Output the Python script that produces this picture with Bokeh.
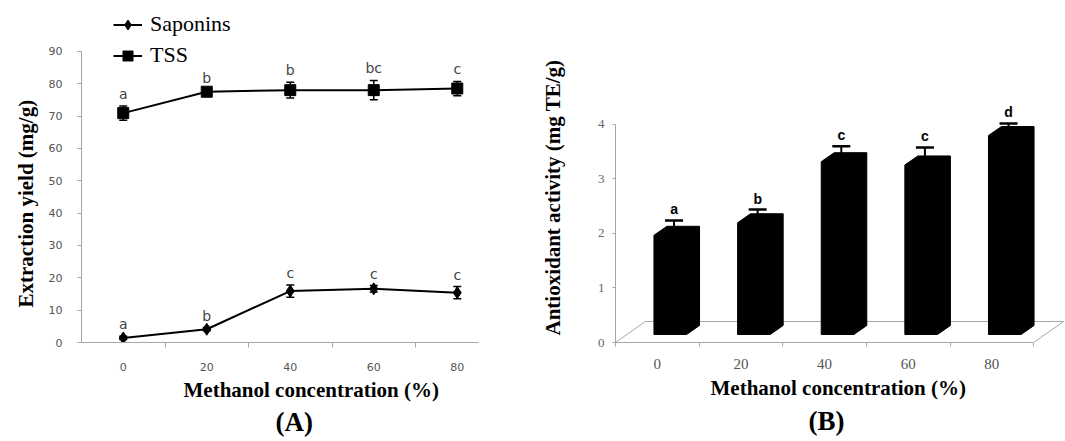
import math
from bokeh.plotting import figure
from bokeh.models import (Range1d, FixedTicker, Whisker, TeeHead, ColumnDataSource,
                          Legend, LegendItem, Title)
from bokeh.layouts import row
from bokeh.core.properties import value
from bokeh.embed import file_html
from bokeh.resources import INLINE

# ---------------- data: panel A ----------------
concentration = [0, 20, 40, 60, 80]
tss = [70.9, 77.5, 78.0, 78.0, 78.5]
tss_err = [2.2, 0.5, 2.4, 3.0, 2.2]
tss_letters = ["a", "b", "b", "bc", "c"]
saponins = [1.4, 4.1, 15.9, 16.6, 15.4]
saponins_err = [0.5, 0.5, 1.9, 1.0, 1.9]
saponins_letters = ["a", "b", "c", "c", "c"]
y_ticks_a = [0, 10, 20, 30, 40, 50, 60, 70, 80, 90]

# ---------------- data: panel B ----------------
conc_labels = ["0", "20", "40", "60", "80"]
antioxidant = [2.05, 2.28, 3.40, 3.34, 3.88]
antioxidant_err = [0.19, 0.16, 0.20, 0.24, 0.14]
antioxidant_letters = ["a", "b", "c", "c", "d"]
y_ticks_b = [0, 1, 2, 3, 4]

SERIF = "Liberation Serif"


def title(text, size, offset, standoff):
    return Title(text=text, align="left", offset=offset, standoff=standoff,
                 text_font=SERIF, text_font_style="bold", text_font_size=size,
                 text_color="black")


# ================= Panel A =================
pA = figure(width=508, height=441, output_backend="svg", toolbar_location=None,
            x_range=Range1d(-10, 92.27), y_range=Range1d(0, 105.7),
            min_border_left=81, min_border_right=0, min_border_top=0, min_border_bottom=97)
pA.outline_line_color = None
pA.grid.visible = False

mids = [(a + b) / 2 for a, b in zip(concentration[:-1], concentration[1:])]
xa = pA.xaxis[0]
xa.ticker = FixedTicker(ticks=concentration, minor_ticks=mids)
xa.bounds = (-10, 85)
xa.axis_line_color = "#a6a6a6"
xa.major_tick_out = 0
xa.major_tick_in = 0
xa.minor_tick_out = 5
xa.minor_tick_in = 0
xa.minor_tick_line_color = "#a6a6a6"
xa.major_label_text_font = "DejaVu Sans"
xa.major_label_text_font_size = "11px"
xa.major_label_text_color = "#555555"
xa.major_label_standoff = 15

ya = pA.yaxis[0]
ya.ticker = FixedTicker(ticks=y_ticks_a)
ya.bounds = (0, 90)
ya.axis_line_color = "#a6a6a6"
ya.major_tick_line_color = "#a6a6a6"
ya.major_tick_out = 4
ya.major_tick_in = 0
ya.minor_tick_line_color = None
ya.major_label_text_font = "DejaVu Sans"
ya.major_label_text_font_size = "11px"
ya.major_label_text_color = "#555555"
ya.major_label_standoff = 15

src_t = ColumnDataSource(dict(x=concentration, y=tss,
                              upper=[v + e for v, e in zip(tss, tss_err)],
                              lower=[v - e for v, e in zip(tss, tss_err)],
                              lab=tss_letters))
src_s = ColumnDataSource(dict(x=concentration, y=saponins,
                              upper=[v + e for v, e in zip(saponins, saponins_err)],
                              lower=[v - e for v, e in zip(saponins, saponins_err)],
                              lab=saponins_letters))

renderers = {}
for name, src, marker, msize in [("TSS", src_t, "square", 11), ("Saponins", src_s, "diamond", 12)]:
    ln = pA.line("x", "y", source=src, line_color="black", line_width=2)
    w = Whisker(source=src, base="x", upper="upper", lower="lower", dimension="height",
                line_color="black", line_width=1.5,
                upper_head=TeeHead(size=8, line_color="black", line_width=1.5),
                lower_head=TeeHead(size=8, line_color="black", line_width=1.5))
    pA.add_layout(w)
    mk = pA.scatter("x", "y", source=src, marker=marker, size=msize, color="black")
    pA.text("x", "upper", text="lab", source=src, text_align="center", text_baseline="middle",
            y_offset=-12, text_font=value("DejaVu Sans"), text_font_size="14px",
            text_color="#444444")
    renderers[name] = [ln, mk]

legend = Legend(items=[LegendItem(label="Saponins", renderers=renderers["Saponins"]),
                       LegendItem(label="TSS", renderers=renderers["TSS"])],
                location=(32, 274), orientation="vertical",
                label_text_font="'Liberation Serif', serif", label_text_font_size="22px",
                label_text_color="black",
                glyph_width=29, glyph_height=25, label_height=25, spacing=5,
                padding=0, margin=0, border_line_color=None, background_fill_alpha=0,
                label_standoff=8)
pA.add_layout(legend)

pA.add_layout(title("Extraction yield (mg/g)", "21px", 35, 15), "left")
pA.add_layout(title("Methanol concentration (%)", "21px", 102, 4), "below")
pA.add_layout(title("(A)", "27px", 194, 2), "below")

# ================= Panel B =================
n = len(conc_labels)
pB = figure(width=557, height=441, output_backend="svg", toolbar_location=None,
            x_range=Range1d(0, 5.381), y_range=Range1d(0, 6.275),
            min_border_left=105, min_border_right=0, min_border_top=0, min_border_bottom=99)
pB.outline_line_color = None
pB.grid.visible = False

centers = [i + 0.5 for i in range(n)]
xb = pB.xaxis[0]
xb.ticker = FixedTicker(ticks=centers, minor_ticks=list(range(n + 1)))
xb.major_label_overrides = {c: lab for c, lab in zip(centers, conc_labels)}
xb.bounds = (0, n)
xb.axis_line_color = "#a6a6a6"
xb.major_tick_out = 0
xb.major_tick_in = 0
xb.minor_tick_out = 4
xb.minor_tick_in = 0
xb.minor_tick_line_color = "#a6a6a6"
xb.major_label_text_font = SERIF
xb.major_label_text_font_size = "15px"
xb.major_label_text_color = "#555555"
xb.major_label_standoff = 12

yb = pB.yaxis[0]
yb.ticker = FixedTicker(ticks=y_ticks_b)
yb.bounds = (0, 4)
yb.axis_line_color = "#a6a6a6"
yb.major_tick_line_color = "#a6a6a6"
yb.major_tick_out = 3
yb.major_tick_in = 0
yb.minor_tick_line_color = None
yb.major_label_text_font = SERIF
yb.major_label_text_font_size = "13px"
yb.major_label_text_color = "#666666"
yb.major_label_standoff = 8

# floor (3-D look)
FDX, FDY = 0.357, 0.385
pB.multi_line(xs=[[0, FDX, n + FDX, n]], ys=[[0, FDY, FDY, 0]],
              line_color="#a6a6a6", line_width=1)

# bars as 3-D silhouettes
X0, W, DX, DY, B0 = -0.04, 0.39, 0.155, 0.165, 0.147
bxs, bys = [], []
for c, v in zip(centers, antioxidant):
    x0 = c + X0
    bxs.append([x0, x0, x0 + DX, x0 + W + DX, x0 + W + DX, x0 + W])
    bys.append([B0, v - DY / 2, v + DY / 2, v + DY / 2, B0 + DY, B0])
pB.patches(bxs, bys, fill_color="black", line_color="black", line_width=1)

src_b = ColumnDataSource(dict(x=[c + 0.2 for c in centers], lower=antioxidant,
                              upper=[v + e for v, e in zip(antioxidant, antioxidant_err)],
                              lab=antioxidant_letters))
pB.add_layout(Whisker(source=src_b, base="x", upper="upper", lower="lower", dimension="height",
                      line_color="black", line_width=2,
                      upper_head=TeeHead(size=18, line_color="black", line_width=2.5),
                      lower_head=None))
pB.text("x", "upper", text="lab", source=src_b, text_align="center", text_baseline="middle",
        y_offset=-11, text_font=value("Liberation Sans"), text_font_style="bold",
        text_font_size="14px", text_color="black")

pB.add_layout(title("Antioxidant activity (mg TE/g)", "21px", 7, 60), "left")
pB.add_layout(title("Methanol concentration (%)", "21px", 95, 4), "below")
pB.add_layout(title("(B)", "27px", 193, 4), "below")

layout = row(pA, pB)
open("out.html", "w").write(file_html(layout, INLINE))
